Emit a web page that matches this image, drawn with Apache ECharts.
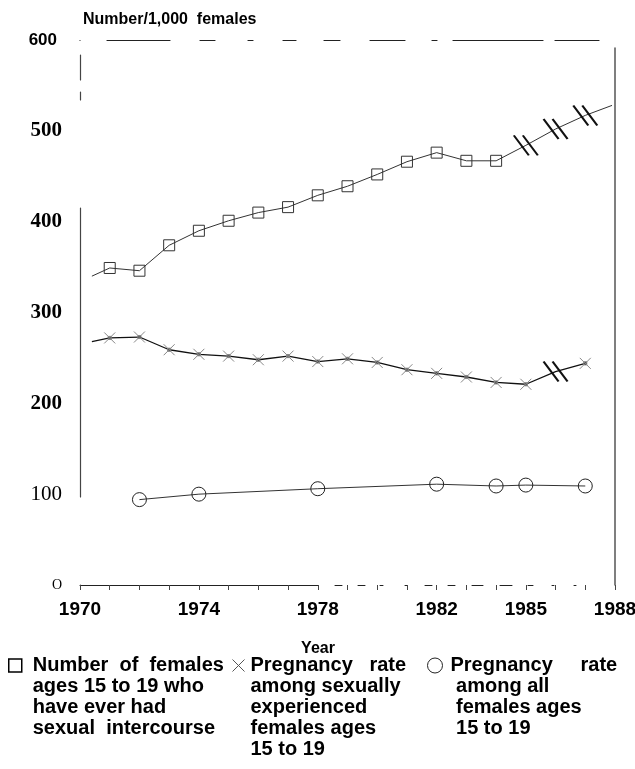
<!DOCTYPE html>
<html>
<head>
<meta charset="utf-8">
<script src="https://cdn.jsdelivr.net/npm/echarts@6/dist/echarts.min.js"></script>
<style>
  html, body { margin: 0; padding: 0; background: #fff; }
  #chart { width: 635px; height: 769px; }
</style>
</head>
<body>
<div id="chart"></div>
<script>
// ---- Data ----
const titleText = 'Number/1,000  females';
const xAxisName = 'Year';
const xTickLabels = [1970, 1974, 1978, 1982, 1985, 1988];

// Number of females ages 15-19 who have ever had sexual intercourse (per 1,000)
const sexExpYears  = [1970.4, 1971, 1972, 1973, 1974, 1975, 1976, 1977, 1978, 1979, 1980, 1981, 1982, 1983, 1984, 1985, 1986, 1987, 1987.9];
const sexExpValues = [340, 349, 346, 374, 390, 401, 410, 416, 429, 439, 452, 466, 476, 467, 467, 484, 502, 517, 528];
const sexExpHatched = [1985, 1986, 1987];

// Pregnancy rate among sexually experienced females ages 15-19
const rateExpYears  = [1970.4, 1971, 1972, 1973, 1974, 1975, 1976, 1977, 1978, 1979, 1980, 1981, 1982, 1983, 1984, 1985, 1986, 1987];
const rateExpValues = [268, 272, 273, 259, 254, 252, 248, 252, 246, 249, 245, 237, 233, 229, 223, 221, 235, 244];
const rateExpHatched = [1986];

// Pregnancy rate among all females ages 15-19
const rateAllYears  = [1972, 1974, 1978, 1982, 1984, 1985, 1987];
const rateAllValues = [94, 100, 106, 111, 109, 110, 109];

const legendLines1 = ['Number  of  females', 'ages 15 to 19 who', 'have ever had', 'sexual  intercourse'];
const legendLines2 = ['Pregnancy   rate', 'among sexually', 'experienced', 'females ages', '15 to 19'];
const legendLines3 = ['Pregnancy     rate', ' among all', ' females ages', ' 15 to 19'];

// ---- Styling ----
const SANS = 'Liberation Sans, Arial, sans-serif';
const SERIF = 'Liberation Serif, Times New Roman, serif';
const HATCH = 'path://M0,0L15,20M9,0L24,20';
const CROSS = 'path://M0,0L10,10M10,0L0,10';
const CROSS_DOT = 'path://M0,0L10,10M10,0L0,10M3.6,3.6L6.4,3.6L6.4,6.4L3.6,6.4Z';
const LEGEND_LH = 21;

const name1 = legendLines1.join(' ');
const name2 = legendLines2.join(' ');
const name3 = legendLines3.join(' ');

function buildData(years, values, hatched) {
  return years.map((yr, i) => {
    const v = [yr, values[i]];
    if (hatched.indexOf(yr) >= 0) {
      return { value: v, symbol: HATCH, symbolSize: [24, 20],
               itemStyle: { color: 'transparent', borderColor: '#111', borderWidth: 2 } };
    }
    if (!Number.isInteger(yr)) return { value: v, symbol: 'none' };
    return v;
  });
}

// first text line is centred on the icon: pad the block above with empty lines
function legendFor(left, firstLineY, name, lines, icon, size, padLeft, iconStyle) {
  const n = lines.length;
  const blank = new Array(n).join('\n');   // n-1 newlines
  const top = Math.round(firstLineY - (2 * n - 1) * LEGEND_LH / 2);
  return {
    left: left, top: top, padding: 0, orient: 'horizontal',
    selectedMode: false,
    data: [{ name: name, icon: icon }],
    itemWidth: size, itemHeight: size,
    itemStyle: iconStyle,
    formatter: function () { return blank + lines.join('\n'); },
    textStyle: {
      fontFamily: SANS, fontWeight: 'bold', fontSize: 20, lineHeight: LEGEND_LH, color: '#000',
      padding: [0, 0, 0, padLeft]
    }
  };
}

const chart = echarts.init(document.getElementById('chart'), null, { renderer: 'canvas' });

const option = {
  animation: false,
  backgroundColor: '#fff',
  title: {
    text: titleText, left: 83, top: 12, padding: 0,
    textStyle: { fontFamily: SANS, fontWeight: 'bold', fontSize: 16, color: '#000' }
  },
  grid: { left: 80, right: 20, top: 40, bottom: 184, containLabel: false, outerBoundsMode: 'none' },
  legend: [
    legendFor(8, 665, name1, legendLines1, 'rect', 13, 6,
      { color: '#fff', borderColor: '#000', borderWidth: 1.5 }),
    legendFor(232, 665, name2, legendLines2, CROSS, 12, 1,
      { color: 'transparent', borderColor: '#555', borderWidth: 1 }),
    legendFor(427, 665, name3, legendLines3, 'circle', 15, 3,
      { color: 'transparent', borderColor: '#222', borderWidth: 1 })
  ],
  xAxis: [
    {
      type: 'value', position: 'bottom', min: 1970, max: 1988, interval: 1,
      name: xAxisName, nameLocation: 'middle', nameGap: 56,
      nameTextStyle: { fontFamily: SANS, fontWeight: 'bold', fontSize: 16, color: '#000', padding: [0, 59, 0, 0] },
      axisLine: { show: true, onZero: false, lineStyle: { color: '#222', width: 1,
        type: [238, 17, 7, 16, 7, 15, 3, 22, 2, 18, 7, 16, 7, 17, 11, 17, 12, 16, 5, 19, 2, 20, 2, 39] } },
      axisTick: { show: true, inside: false, length: 5, lineStyle: { color: '#444', width: 1 } },
      splitLine: { show: false },
      axisLabel: {
        margin: 15, fontFamily: SANS, fontWeight: 'bold', fontSize: 19, color: '#000',
        showMinLabel: true, showMaxLabel: true,
        formatter: function (v) { return xTickLabels.indexOf(Math.round(v)) >= 0 ? String(Math.round(v)) : ''; }
      }
    },
    {
      type: 'value', position: 'top', min: 1970, max: 1988, interval: 1,
      axisLine: { show: true, onZero: false, lineStyle: { color: '#222', width: 1.2,
        type: [0, 27, 63, 30, 15, 33, 5, 30, 13, 28, 16, 30, 35, 27, 5, 16, 90, 12, 44, 16] } },
      axisTick: { show: false }, axisLabel: { show: false }, splitLine: { show: false }
    }
  ],
  yAxis: [
    {
      type: 'value', position: 'left', min: 0, max: 600, interval: 100,
      axisLine: { show: true, onZero: false, lineStyle: { color: '#444', width: 1.2,
        type: [0, 88, 289, 108, 8, 12, 25, 15] } },
      axisTick: { show: false }, splitLine: { show: false },
      axisLabel: {
        margin: 18,
        formatter: function (v) {
          if (v === 0) return '{o|O}';
          if (v === 600) return '{s|600}';
          if (v === 100) return '{r|100}';
          return '{b|' + v + '}';
        },
        rich: {
          s: { fontFamily: SANS, fontWeight: 'bold', fontSize: 17, color: '#000', padding: [0, 5, 0, 0] },
          b: { fontFamily: SERIF, fontWeight: 'bold', fontSize: 21, color: '#000' },
          r: { fontFamily: SERIF, fontSize: 21, color: '#000' },
          o: { fontFamily: SERIF, fontSize: 14, color: '#000' }
        }
      }
    },
    {
      type: 'value', position: 'right', min: 0, max: 600, interval: 100,
      axisLine: { show: true, onZero: false, lineStyle: { color: '#555', width: 1.5, type: [537, 10] } },
      axisTick: { show: false }, axisLabel: { show: false }, splitLine: { show: false }
    }
  ],
  series: [
    {
      name: name1, type: 'line', xAxisIndex: 0, yAxisIndex: 0,
      data: buildData(sexExpYears, sexExpValues, sexExpHatched),
      symbol: 'rect', symbolSize: 11,
      itemStyle: { color: 'transparent', borderColor: '#333', borderWidth: 1 },
      lineStyle: { color: '#333', width: 1 },
      emphasis: { disabled: true }, z: 3
    },
    {
      name: name2, type: 'line', xAxisIndex: 0, yAxisIndex: 0,
      data: buildData(rateExpYears, rateExpValues, rateExpHatched),
      symbol: CROSS_DOT, symbolSize: 11,
      itemStyle: { color: '#111', borderColor: '#888', borderWidth: 1 },
      lineStyle: { color: '#111', width: 1.3 },
      emphasis: { disabled: true }, z: 3
    },
    {
      name: name3, type: 'line', xAxisIndex: 0, yAxisIndex: 0,
      data: buildData(rateAllYears, rateAllValues, []),
      symbol: 'circle', symbolSize: 14,
      itemStyle: { color: 'transparent', borderColor: '#222', borderWidth: 1 },
      lineStyle: { color: '#333', width: 1 },
      emphasis: { disabled: true }, z: 3
    }
  ]
};

chart.setOption(option);
</script>
</body>
</html>
